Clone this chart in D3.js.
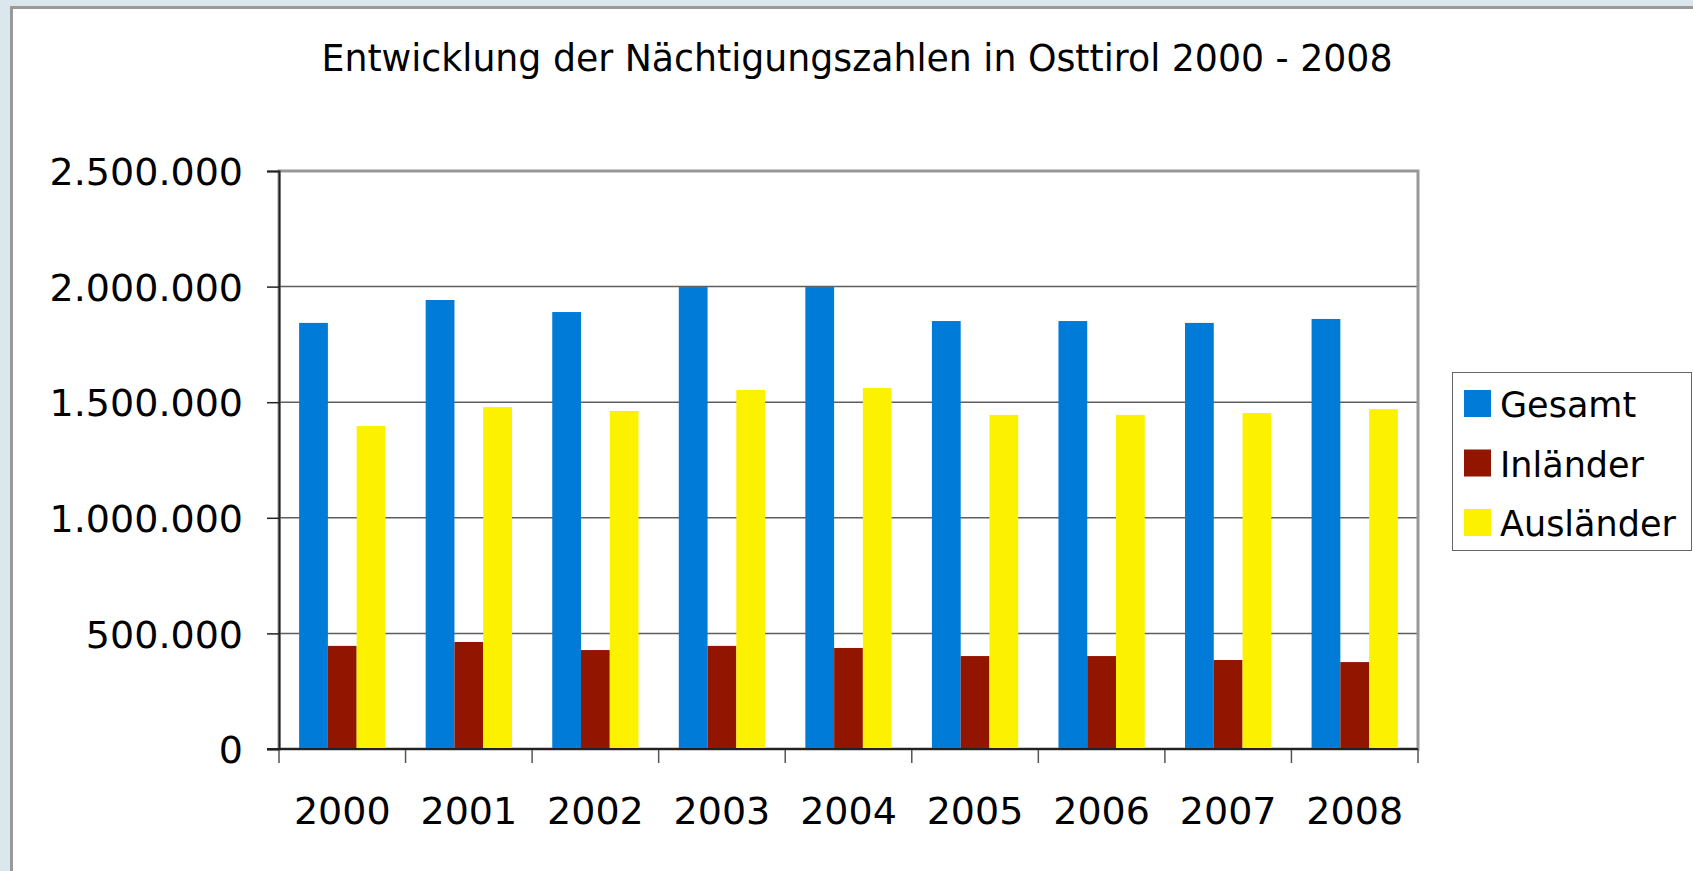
<!DOCTYPE html>
<html>
<head>
<meta charset="utf-8">
<script src="https://cdn.jsdelivr.net/npm/d3@7"></script>
<style>
  html, body { margin: 0; padding: 0; background: #dce6ed; overflow: hidden; }
  svg { display: block; font-family: "DejaVu Sans", sans-serif; }
</style>
</head>
<body>
<div id="chart"></div>
<script>
// Nächtigungen Osttirol
const years = ["2000", "2001", "2002", "2003", "2004", "2005", "2006", "2007", "2008"];
const seriesNames = ["Gesamt", "Inländer", "Ausländer"];
const gesamt = [1843000, 1942000, 1890000, 1998000, 1998000, 1851000, 1851000, 1843000, 1860000];
const inlaender = [446000, 463000, 428000, 446000, 437000, 402000, 402000, 385000, 376000];
const auslaender = [1397000, 1479000, 1462000, 1553000, 1561000, 1445000, 1445000, 1453000, 1470000];
const yTicks = [0, 500000, 1000000, 1500000, 2000000, 2500000];
const colors = ["#007bd7", "#921500", "#fcf200"];

const W = 1693, H = 871;
const MARGIN = { top: 171, right: 275, bottom: 122, left: 279 };
const width = W - MARGIN.left - MARGIN.right;
const height = H - MARGIN.top - MARGIN.bottom;

const de = d3.formatLocale({ decimal: ",", thousands: ".", grouping: [3], currency: ["", " €"] });
const fmt = de.format(",d");

const values = [gesamt, inlaender, auslaender];
const table = years.map(function(yr, i) {
  return { year: yr, vals: seriesNames.map(function(s, k) { return { key: s, value: values[k][i], k: k }; }) };
});

const svg = d3.select("#chart").append("svg").attr("width", W).attr("height", H);

// white sheet with grey frame, cut off on the right and bottom
svg.append("rect").attr("x", 11.5).attr("y", 7.5).attr("width", W + 20).attr("height", H + 20)
  .attr("fill", "#fff").attr("stroke", "#999").attr("stroke-width", 3);

svg.append("text")
  .attr("x", 857).attr("y", 71)
  .attr("text-anchor", "middle")
  .attr("font-size", 37)
  .attr("fill", "#000")
  .text("Entwicklung der Nächtigungszahlen in Osttirol 2000 - 2008")
  .each(function() {
    if (this.getComputedTextLength() > 1071) {
      d3.select(this).attr("textLength", 1071).attr("lengthAdjust", "spacingAndGlyphs");
    }
  });

const g = svg.append("g").attr("transform", "translate(" + MARGIN.left + "," + MARGIN.top + ")");

const x0 = d3.scaleBand().domain(years).range([0, width]);
const x1 = d3.scaleBand().domain(seriesNames).range([0, x0.bandwidth()]).paddingOuter(0.7);
const y = d3.scaleLinear().domain([0, 2500000]).range([height, 0]);

// grid lines
g.append("g").selectAll("line").data(yTicks.slice(1, -1)).join("line")
  .attr("x1", 0).attr("x2", width)
  .attr("y1", function(d) { return y(d); }).attr("y2", function(d) { return y(d); })
  .attr("stroke", "#5e5e5e").attr("stroke-width", 1.5);

// plot frame (top + right visible)
g.append("rect").attr("x", 0).attr("y", 0).attr("width", width).attr("height", height)
  .attr("fill", "none").attr("stroke", "#999").attr("stroke-width", 3);

// bars
g.append("g").selectAll("g").data(table).join("g")
  .attr("transform", function(d) { return "translate(" + x0(d.year) + ",0)"; })
  .selectAll("rect").data(function(d) { return d.vals; }).join("rect")
  .attr("x", function(d) { return x1(d.key); })
  .attr("width", x1.bandwidth())
  .attr("y", function(d) { return y(d.value); })
  .attr("height", function(d) { return height - y(d.value); })
  .attr("fill", function(d) { return colors[d.k]; });

// y axis
const yAxis = d3.axisLeft(y).tickValues(yTicks).tickFormat(fmt).tickSize(12).tickPadding(24);
const ya = g.append("g").attr("class", "y axis").call(yAxis);
ya.select(".domain").attr("stroke", "#222").attr("stroke-width", 2);
ya.selectAll(".tick line").attr("stroke", "#222").attr("stroke-width", 1.5);
ya.selectAll(".tick text").attr("font-size", 38).attr("fill", "#000")
  .attr("font-family", "DejaVu Sans").attr("dy", "0.36em");

// x axis: labels centered, tick marks on category borders
const xAxis = d3.axisBottom(x0).tickSize(0).tickPadding(48);
const xa = g.append("g").attr("class", "x axis").attr("transform", "translate(0," + height + ")").call(xAxis);
xa.select(".domain").remove();
xa.selectAll(".tick text").attr("font-size", 38).attr("fill", "#000").attr("font-family", "DejaVu Sans");
xa.append("g").selectAll("line").data(years.concat(["end"])).join("line")
  .attr("x1", function(d, i) { return i * x0.step(); })
  .attr("x2", function(d, i) { return i * x0.step(); })
  .attr("y1", 0).attr("y2", 14)
  .attr("stroke", "#555").attr("stroke-width", 1.5);
xa.append("line").attr("x1", -12).attr("x2", width).attr("y1", 0).attr("y2", 0)
  .attr("stroke", "#222").attr("stroke-width", 2);

// legend
const lg = svg.append("g").attr("transform", "translate(1452,372)");
lg.append("rect").attr("x", 0.5).attr("y", 0.5).attr("width", 239).attr("height", 178)
  .attr("fill", "#fff").attr("stroke", "#666").attr("stroke-width", 1);
const item = lg.selectAll("g.item").data(seriesNames).join("g").attr("class", "item")
  .attr("transform", function(d, i) { return "translate(12," + (18 + i * 59.5) + ")"; });
item.append("rect").attr("width", 27).attr("height", 27).attr("fill", function(d, i) { return colors[i]; });
item.append("text").attr("x", 36).attr("y", 27).attr("font-size", 35).attr("fill", "#000")
  .text(function(d) { return d; });
</script>
</body>
</html>
